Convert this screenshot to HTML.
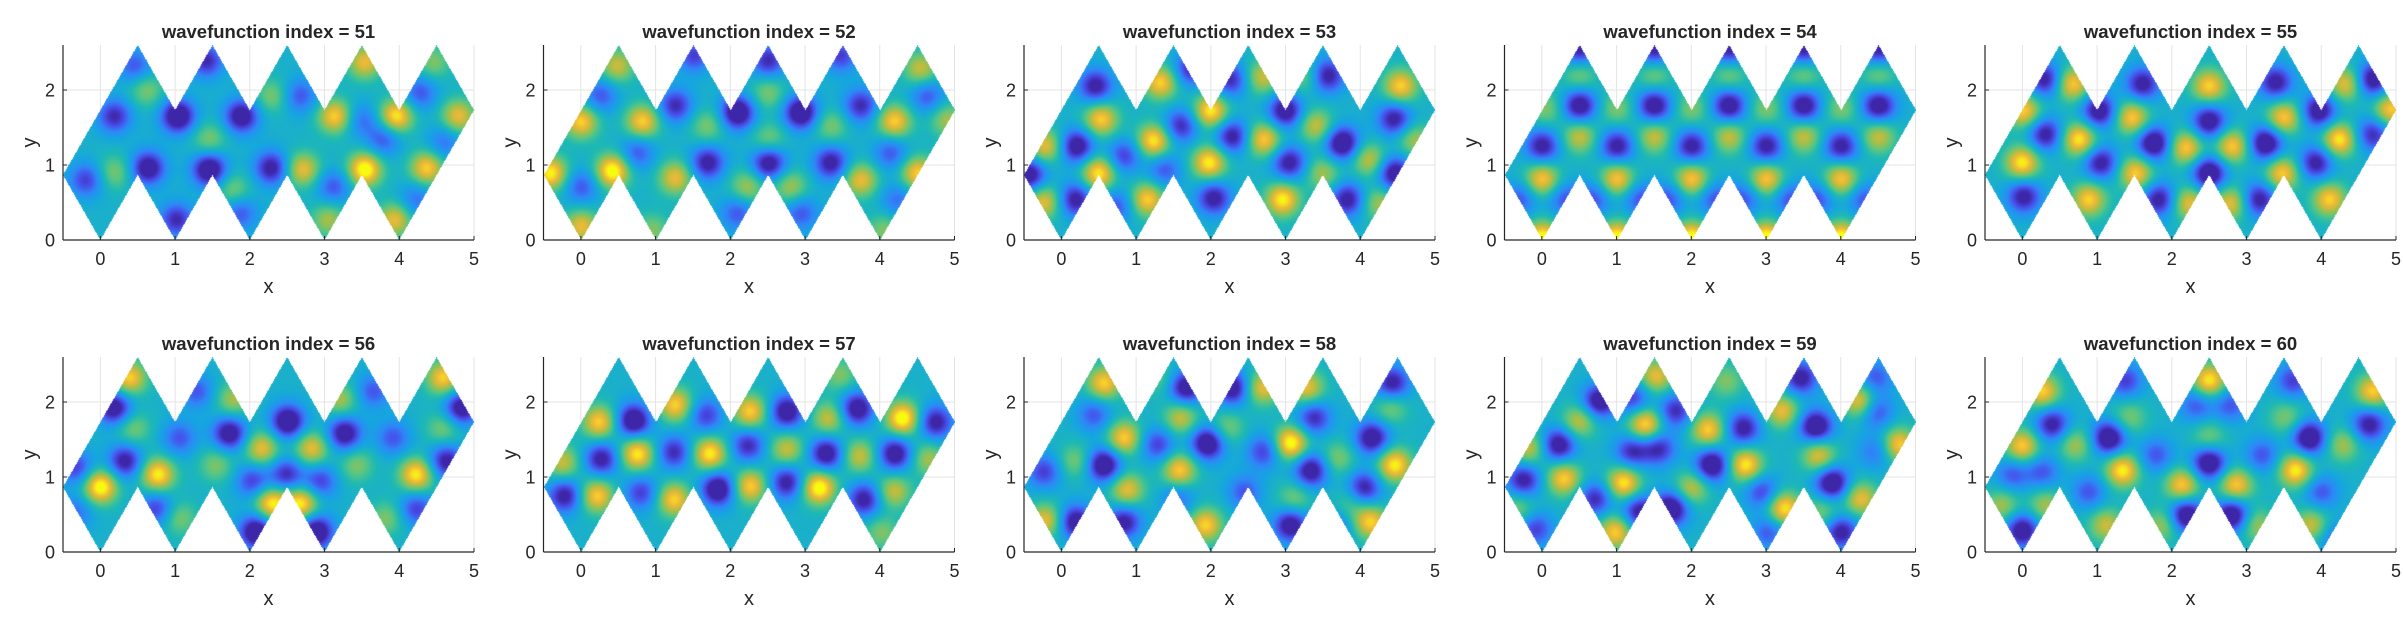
<!DOCTYPE html>
<html><head><meta charset="utf-8">
<style>
html,body{margin:0;padding:0;background:#fff;}
#wrap{position:relative;width:2403px;height:625px;overflow:hidden;background:#fff;}
svg{position:absolute;left:0;top:0;}
canvas{position:absolute;}
text{font-family:"Liberation Sans",Arial,sans-serif;fill:#262626;}
</style></head>
<body>
<div id="wrap">
<svg id="gridLayer" width="2403" height="625"></svg>
<svg id="fgLayer" width="2403" height="625" style="z-index:3"></svg>
</div>
<script>
const titles = [51,52,53,54,55,56,57,58,59,60];
const xTicks = [0,1,2,3,4,5];
const yTicks = [0,1,2];
// blobs: [x, y, amplitude]  (+ yellow, - dark blue)
const blobs51 = [[0.19,1.65,-.7],[1.04,1.65,-1],[1.89,1.65,-.9],[0.64,0.96,-.9],[1.46,0.94,-1],[2.29,0.96,-.8],[-0.19,0.8,-.6],[1.02,0.27,-.7],[1.42,2.39,-.7],[0.46,2.32,-.5],[1.87,0.36,-.5],[2.67,1.92,-.5],
[3.14,1.65,.8],[3.96,1.65,.9],[4.79,1.65,.7],[2.71,0.94,.7],[3.54,0.94,1],[4.37,0.96,.8],[3.54,2.37,.7],[3.94,0.27,.7],[3.05,0.27,.5],[4.46,2.37,.4],
[0.19,0.9,.4],[0.62,2.0,.4],[1.46,1.34,.4],[2.3,1.92,.4],[1.78,0.67,.4],[3.79,1.34,-.5],[3.12,0.71,-.5],[4.23,0.54,-.4],[4.28,1.96,-.5],[3.5,1.6,-.4],[4.6,1.3,-.4]];
const blobs52 = [[0,1.58,.8],[0.82,1.58,.8],[-0.41,0.89,.9],[0.42,0.92,1],[0,0.18,.7],[0.48,2.32,.6],[1.26,0.83,.7],[0.95,0.13,.4],[3.74,0.8,.7],[4.19,1.58,.8],[4.5,0.89,.8],[4.54,2.28,.6],[4.05,0.13,.4],[4.9,1.6,.5],
[1.69,1.52,.4],[2.51,1.34,.4],[3.34,1.52,.4],[2.22,0.71,.5],[2.8,0.71,.5],[2.5,1.96,.4],
[2.09,1.7,-1],[2.94,1.7,-1],[1.69,1.03,-.8],[2.51,1.03,-.9],[3.34,1.03,-.8],[1.26,1.79,-.7],[3.74,1.79,-.7],[2.5,2.39,-.7],[1.51,2.46,-.6],[3.47,2.46,-.6],[2.09,0.36,-.5],[2.94,0.36,-.5],
[0.26,1.92,-.5],[0.75,1.16,-.5],[0,0.71,-.5],[4.63,1.92,-.5],[4.14,1.16,-.5],[4.23,0.54,-.4]];
const blobs53 = [[0.53,1.61,.8],[0.5,0.89,.9],[-0.21,1.25,.7],[-0.23,0.51,.7],[1.33,2.1,.8],[1.24,1.32,.9],[1.15,0.54,.8],[2.0,1.72,.9],[1.98,1.03,.9],[2.71,1.34,.8],[2.69,2.17,.6],[2.96,0.54,.9],[3.41,1.52,.6],[4.12,1.07,.6],[4.54,2.05,.8],[3.5,0.89,.5],[3.25,2.19,.4],[4.72,1.34,.5],[4.25,0.49,.5],
[0.46,2.05,-.8],[0.21,1.25,-.9],[0.19,0.54,-.8],[-0.43,0.87,-.9],[0.84,1.12,-.6],[1.73,2.28,-.7],[1.6,1.52,-.7],[0.75,0.45,-.5],[1.38,0.94,-.5],[2.29,1.38,-.8],[2.27,2.14,-.7],[2.04,0.56,-.8],[3.0,1.72,-.9],[3.05,1.03,-.8],[3.56,2.19,-.8],[3.76,1.29,-1],[3.83,0.54,-.8],[4.46,1.61,-.8],[4.46,0.89,-.9]];
const blobs54 = [[0.5,1.79,-.9],[1.5,1.79,-.9],[2.5,1.79,-.9],[3.5,1.79,-.9],[4.5,1.79,-.9],
[0,1.25,-.8],[1,1.25,-.8],[2,1.25,-.8],[3,1.25,-.8],[4,1.25,-.8],
[0,0.81,.8],[1,0.81,.8],[2,0.81,.8],[3,0.81,.8],[4,0.81,.8],
[0.5,1.38,.6],[1.5,1.38,.6],[2.5,1.38,.6],[3.5,1.38,.6],[4.5,1.38,.6],
[0.5,2.55,-.8],[1.5,2.55,-.8],[2.5,2.55,-.8],[3.5,2.55,-.8],[4.5,2.55,-.8],
[0,0.02,1],[1,0.02,1],[2,0.02,1],[3,0.02,1],[4,0.02,1],
[-0.3,0.55,-.5],[0.3,0.55,-.5],[0.7,0.55,-.5],[1.3,0.55,-.5],[1.7,0.55,-.5],[2.3,0.55,-.5],[2.7,0.55,-.5],[3.3,0.55,-.5],[3.7,0.55,-.5],[4.3,0.55,-.5],
[0.05,1.75,.4],[1,1.75,.4],[2,1.75,.4],[3,1.75,.4],[4,1.75,.4],
[0.5,2.2,.4],[1.5,2.2,.4],[2.5,2.2,.4],[3.5,2.2,.4],[4.5,2.2,.4]];
const blobs55 = [[0.02,1.72,.8],[0,1.03,.9],[0.67,2.08,.8],[0.76,1.34,.9],[0.89,0.54,.8],[1.47,1.63,.8],[1.52,0.89,.8],[2.19,1.23,.8],[2.5,2.05,.8],[2.23,0.49,.7],[2.81,1.25,.8],[2.79,0.49,.7],[3.5,1.63,.8],[3.48,0.89,.8],[4.24,1.34,.9],[4.11,0.54,.8],[4.33,2.08,.7],[4.93,1.74,.8],
[0.31,2.14,-.8],[0.31,1.41,-.8],[0.02,0.58,-.8],[1.03,1.72,-.9],[1.05,1.03,-.8],[1.61,2.08,-.8],[1.76,1.29,-1],[1.83,0.54,-.8],[2.5,1.58,-.9],[2.5,0.89,-1],[3.26,1.29,-1],[3.17,0.54,-.8],[3.39,2.1,-.8],[3.97,1.72,-.9],[3.93,1.03,-.8],[4.69,2.14,-.9],[4.69,1.41,-.7]];
const blobs56 = [[0,0.87,1],[0.77,1.03,.9],[0.39,2.32,.8],[4.23,1.03,.9],[4.59,2.32,.8],[2.16,1.38,.7],[2.83,1.38,.7],[2.29,0.65,.9],[2.69,0.65,.9],[1.78,2.03,.5],[3.21,2.03,.5],[0.44,1.65,.4],[1.06,0.45,.4],[3.83,0.45,.4],[4.59,1.65,.4],[1.55,1.16,.4],[3.43,1.16,.4],
[0.19,1.92,-.9],[0.33,1.21,-.8],[1.73,1.58,-.9],[2.51,1.74,-1],[3.27,1.58,-.9],[2.09,0.27,-1],[2.89,0.27,-1],[4.83,1.92,-.9],[4.63,1.21,-.8],[2.49,1.03,-.7],[2.04,0.94,-.6],[2.94,0.94,-.6],[-0.32,1.12,-.6],[0.75,0.58,-.6],[4.23,0.58,-.6],[1.29,2.14,-.5],[3.65,2.14,-.5],[1.06,1.52,-.5],[3.92,1.52,-.5],[-0.32,0.54,-.4]];
const blobs57 = [[0.24,1.73,.8],[1.26,1.96,.8],[0.75,1.31,.9],[1.72,1.31,.9],[0.21,0.75,.8],[1.24,0.7,.8],[2.26,1.87,.8],[2.75,1.37,.6],[2.26,0.88,.8],[3.18,0.86,1],[3.31,1.78,.6],[4.3,1.78,1],[3.72,1.28,.6],[4.18,0.81,.6],[-0.25,1.19,.6],[4.64,1.24,.5],[4.02,0.26,.4],[3.46,2.36,.4],
[0.7,1.75,-1],[0.27,1.24,-.8],[-0.22,0.75,-.8],[1.67,1.82,-.6],[1.24,1.33,-.7],[0.8,0.79,-.6],[1.83,0.84,-1],[2.23,1.42,-.7],[2.75,1.87,-.9],[2.75,0.93,-.8],[3.28,1.31,-.9],[3.69,1.91,-.9],[3.79,0.7,-.8],[4.2,1.31,-.9],[4.74,1.73,-.8]];
const blobs58 = [[0.57,2.25,.8],[0.84,1.52,.8],[0.88,0.83,.7],[-0.21,0.42,.7],[1.58,1.09,.8],[1.6,1.79,.6],[1.93,0.36,.8],[2.69,2.19,.7],[3.07,1.45,1],[3.29,2.19,.7],[4.46,1.16,.9],[4.14,0.4,.8],[0.19,1.21,.4],[2.22,1.65,.4],[3.12,0.71,.4],[3.7,1.25,.4],[4.41,1.92,.4],[3.88,0.67,.3],[1.29,2.32,.3],
[0.57,1.16,-1],[0.19,0.4,-.9],[0.84,0.4,-.8],[1.96,1.45,-1],[1.67,2.19,-.9],[2.29,2.19,-.9],[3.34,1.09,-.9],[3.07,0.36,-.9],[3.38,1.79,-.7],[4.16,1.52,-.9],[4.05,0.85,-.8],[4.43,2.25,-.8],[-0.23,1.07,-.6],[0.44,1.83,-.5],[1.29,1.43,-.6],[2.71,1.34,-.6],[2.45,0.8,-.5],[1.56,0.71,-.4],[3.65,0.31,-.5]];
const blobs59 = [[-0.18,1.38,.6],[0.29,0.98,.8],[0.49,1.74,.6],[1.38,1.7,.9],[1.09,0.92,.9],[0.98,0.27,.8],[1.52,2.34,.7],[2.22,1.63,.8],[2.0,0.85,.6],[2.72,1.16,.9],[3.21,1.88,.7],[3.23,0.58,.9],[3.7,1.29,.7],[4.26,2.01,.8],[4.26,0.71,.7],[4.77,1.43,.8],[3.75,0.54,.4],[-0.32,0.58,.4],[2.46,2.28,.4],
[0.22,1.43,-.9],[-0.25,0.96,-.8],[0.76,2.01,-.9],[1.22,2.05,-.6],[1.78,1.88,-.7],[1.2,1.34,-.7],[1.56,1.38,-.7],[0.71,0.71,-.7],[1.29,0.54,-.8],[1.73,0.58,-1],[2.27,1.16,-1],[2.69,1.65,-.8],[3.66,1.67,-1],[3.46,2.32,-.8],[3.88,0.92,-1],[4.0,0.27,-.8],[2.94,0.8,-.6],[4.46,1.88,-.6],[4.46,1.34,-.4],[-0.09,0.31,-.6],[3.03,0.27,-.5],[4.46,2.32,-.5]];
const blobs60 = [[0.27,2.14,.8],[0,1.41,.8],[1.34,1.09,.9],[2.14,0.89,.8],[2.86,0.89,.8],[2.5,2.28,.9],[3.66,1.09,.9],[4.69,2.14,.8],[1.12,0.36,.6],[3.87,0.36,.6],[-0.27,0.62,.5],[0.31,0.62,.5],[1.88,0.36,.5],[3.13,0.36,.5],[0.71,1.43,.5],[4.29,1.43,.5],[1.43,1.79,.4],[3.53,1.79,.4],[2.5,1.52,.4],
[0.4,1.7,-.8],[0,0.29,-.9],[1.16,1.52,-1],[2.19,0.49,-1],[2.81,0.49,-1],[2.5,1.19,-1],[3.84,1.52,-1],[4.64,1.7,-.8],[1.38,2.28,-.6],[3.62,2.28,-.6],[1.79,1.29,-.5],[3.21,1.29,-.5],[-0.13,1.03,-.5],[0.27,1.07,-.5],[0.89,0.8,-.5],[4.0,0.8,-.5],[4.18,0.18,-.4],[2.33,1.96,-.5],[2.78,1.96,-.5]];
const allBlobs = [blobs51,blobs52,blobs53,blobs54,blobs55,blobs56,blobs57,blobs58,blobs59,blobs60];

const SVGNS = "http://www.w3.org/2000/svg";
const gridLayer = document.getElementById('gridLayer');
const fg = document.getElementById('fgLayer');
const wrap = document.getElementById('wrap');
const XMIN=-0.5, XMAX=5, YTOP=2.6, SX=411/5.5, SY=75, SIG=0.16, BASE=0.44, GAIN=0.62;
const H = Math.sqrt(3)/2;
const poly = [[-0.5,H],[0.5,3*H],[1,2*H],[1.5,3*H],[2,2*H],[2.5,3*H],[3,2*H],[3.5,3*H],[4,2*H],[4.5,3*H],[5,2*H],[4,0],[3.5,H],[3,0],[2.5,H],[2,0],[1.5,H],[1,0],[0.5,H],[0,0]];
const stops=[[0,[62,38,168]],[0.125,[71,80,235]],[0.25,[46,135,247]],[0.375,[22,165,225]],[0.5,[30,185,180]],[0.625,[90,198,130]],[0.75,[170,190,70]],[0.875,[240,185,55]],[1,[249,251,14]]];
function cmap(v){v=Math.max(0,Math.min(1,v));for(let i=1;i<stops.length;i++){if(v<=stops[i][0]){const a=stops[i-1],b=stops[i];const t=(v-a[0])/(b[0]-a[0]);return [a[1][0]+t*(b[1][0]-a[1][0]),a[1][1]+t*(b[1][1]-a[1][1]),a[1][2]+t*(b[1][2]-a[1][2])];}}return stops[stops.length-1][1];}
function inside(x,y){let c=false;for(let i=0,j=poly.length-1;i<poly.length;j=i++){const xi=poly[i][0],yi=poly[i][1],xj=poly[j][0],yj=poly[j][1];if(((yi>y)!=(yj>y))&&(x<(xj-xi)*(y-yi)/(yj-yi)+xi))c=!c;}return c;}
function mk(parent,tag,attrs,txt){const e=document.createElementNS(SVGNS,tag);for(const k in attrs)e.setAttribute(k,attrs[k]);if(txt!==undefined)e.textContent=txt;parent.appendChild(e);return e;}

titles.forEach((idx,p)=>{
  const c=p%5, r=Math.floor(p/5);
  const L=63+c*480.5, y0=240+r*312;
  const xs=v=>L+(v-XMIN)*SX, ys=v=>y0-v*SY;
  const top=ys(YTOP), right=xs(XMAX);
  xTicks.forEach(t=>{const g=mk(gridLayer,'line',{x1:xs(t),x2:xs(t),y1:top,y2:y0,stroke:'#e3e3e3','stroke-width':1});
    
    });
  yTicks.forEach(t=>{const g=mk(gridLayer,'line',{x1:L,x2:right,y1:ys(t),y2:ys(t),stroke:'#e3e3e3','stroke-width':1});
    
    });
  const cw=Math.ceil(right-L), ch=Math.ceil(y0-top);
  const cv=document.createElement('canvas');
  cv.width=cw; cv.height=ch;
  cv.style.left=L+'px'; cv.style.top=top+'px'; cv.style.zIndex=1;
  
  
  wrap.appendChild(cv);
  const ctx=cv.getContext('2d');
  const img=ctx.createImageData(cw,ch);
  const bl=allBlobs[p];
  const k=1/(2*SIG*SIG);
  for(let j=0;j<ch;j++){const y=YTOP-(j+0.5)/SY;
    for(let i=0;i<cw;i++){const x=XMIN+(i+0.5)/SX;
      if(!inside(x,y))continue;
      let s=0;for(const b of bl){const dx=x-b[0],dy=y-b[1];const d=dx*dx+dy*dy;if(d<0.4)s+=b[2]*Math.exp(-d*k);}
      const col=cmap(BASE+GAIN*s);const o=(j*cw+i)*4;
      img.data[o]=col[0];img.data[o+1]=col[1];img.data[o+2]=col[2];img.data[o+3]=255;}}
  ctx.putImageData(img,0,0);
  const ax=mk(fg,'g',{});
  
  
  mk(ax,'line',{x1:L,x2:L,y1:top,y2:y0,stroke:'#262626','stroke-width':1.2});
  mk(ax,'line',{x1:L,x2:right,y1:y0,y2:y0,stroke:'#262626','stroke-width':1.2});
  xTicks.forEach(t=>{mk(ax,'line',{x1:xs(t),x2:xs(t),y1:y0,y2:y0-4,stroke:'#262626','stroke-width':1});
    const tl=mk(ax,'text',{x:xs(t),y:y0+25,'font-size':18,'text-anchor':'middle'},String(t));
    
    });
  yTicks.forEach(t=>{mk(ax,'line',{x1:L,x2:L+4,y1:ys(t),y2:ys(t),stroke:'#262626','stroke-width':1});
    const tl=mk(ax,'text',{x:L-8,y:ys(t)+6.5,'font-size':18,'text-anchor':'end'},String(t));
    
    });
  const xl=mk(ax,'text',{x:L+205.5,y:y0+53,'font-size':20,'text-anchor':'middle'},'x');
  
  
  const yc=(top+y0)/2;
  const yl=mk(ax,'text',{x:L-27,y:yc,'font-size':20,'text-anchor':'middle',transform:'rotate(-90 '+(L-27)+' '+yc+')'},'y');
  
  
  const tt=mk(ax,'text',{x:L+205.5,y:top-7,'font-size':18.5,'font-weight':'bold','text-anchor':'middle',fill:'#000'},'wavefunction index = '+idx);
  
  
});
</script>
</body></html>
